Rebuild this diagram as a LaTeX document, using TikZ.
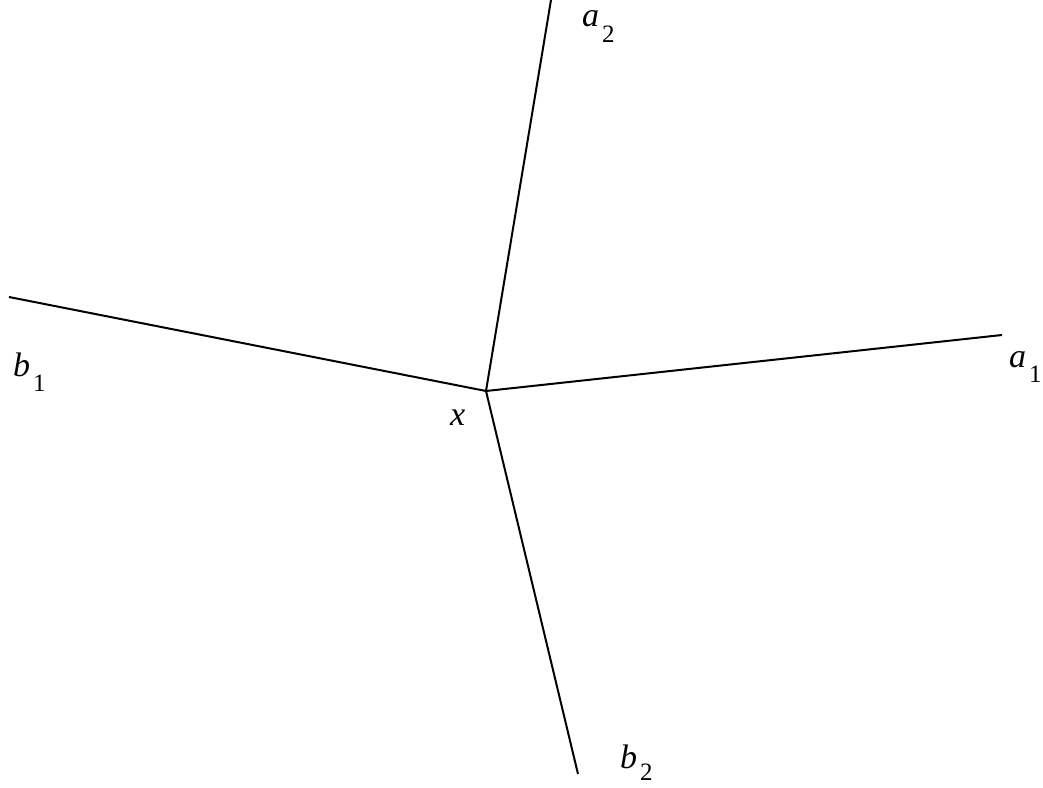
\documentclass[tikz,border=0pt]{standalone}
\usepackage{fontspec}
\setmainfont{Liberation Serif}
\newcommand{\mylab}[3][-15pt]{\fontsize{34}{36}\selectfont\textit{#2}\hspace{3pt}\raisebox{#1}{\fontsize{25}{25}\selectfont #3}}
\begin{document}
\begin{tikzpicture}[x=1pt,y=-1pt,
  edge/.style={line width=2pt},
  lab/.style={anchor=base west,inner sep=0pt,outer sep=0pt}]
\useasboundingbox (0,0) rectangle (1043,787);
\coordinate (x) at (486,391);
\coordinate (A2) at (551,0);
\coordinate (A1) at (1002,335);
\coordinate (B1) at (9,297);
\coordinate (B2) at (578,774);
\draw[edge] (x) -- (A2);
\draw[edge] (x) -- (A1);
\draw[edge] (x) -- (B1);
\draw[edge] (x) -- (B2);
\node[lab] (la2) at (582,27) {\mylab{a}{2}};
\node[lab] (la1) at (1009,367) {\mylab{a}{1}};
\node[lab] (lb1) at (13,376) {\mylab{b}{1}};
\node[lab] (lb2) at (620,768) {\mylab[-12pt]{b}{2}};
\node[lab] (lx) at (450,425) {\fontsize{34}{36}\selectfont\textit{x}};
\end{tikzpicture}
\end{document}
